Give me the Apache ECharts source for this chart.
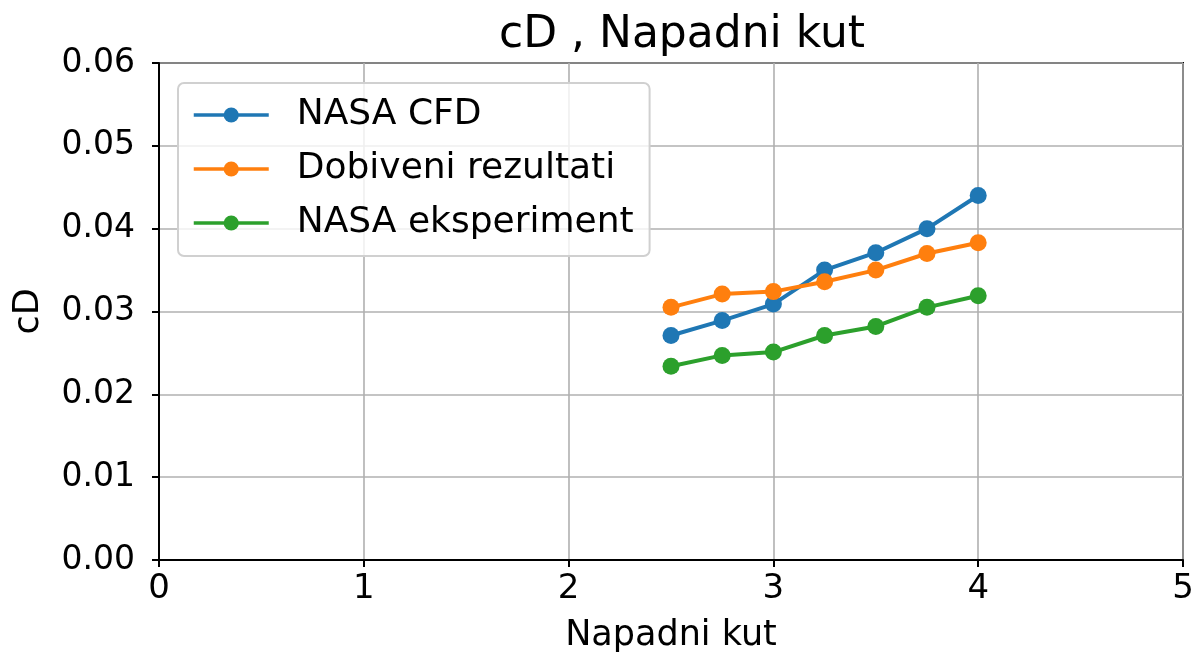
<!DOCTYPE html>
<html>
<head>
<meta charset="utf-8">
<script src="https://cdn.jsdelivr.net/npm/echarts@6/dist/echarts.min.js"></script>
<style>html,body{margin:0;padding:0;background:#fff;}#c{width:1195px;height:655px;}</style>
</head>
<body>
<div id="c"></div>
<script>
const angles = [2.5, 2.75, 3, 3.25, 3.5, 3.75, 4];
const nasaCFD = [0.0271, 0.0289, 0.0309, 0.0350, 0.0371, 0.0400, 0.0440];
const dobiveni = [0.0305, 0.0321, 0.0324, 0.0336, 0.0350, 0.0370, 0.0383];
const nasaEksperiment = [0.0234, 0.0247, 0.0251, 0.0271, 0.0282, 0.0305, 0.0319];
const seriesNames = ['NASA CFD', 'Dobiveni rezultati', 'NASA eksperiment'];
const colors = ['#1f77b4', '#ff7f0e', '#2ca02c'];
const font = 'DejaVu Sans';

const chart = echarts.init(document.getElementById('c'), null, {renderer: 'canvas'});
function pairs(ys){ return angles.map((x,i)=>[x, ys[i]]); }
const allData = [nasaCFD, dobiveni, nasaEksperiment];
chart.setOption({
  animation: false,
  backgroundColor: '#fff',
  title: {
    text: 'cD , Napadni kut',
    left: 677, top: 9, textAlign: 'center',
    textStyle: {fontFamily: font, fontSize: 44, fontWeight: 'normal', color: '#000'}
  },
  grid: {left: 159, right: 12, top: 63, bottom: 95, show: true, borderColor: '#000', borderWidth: 2,
         backgroundColor: 'transparent', containLabel: false, outerBoundsMode: 'none'},
  legend: {
    left: 178, top: 83,
    orient: 'vertical',
    data: seriesNames,
    itemWidth: 75, itemHeight: 19, itemGap: 18,
    padding: [14, 16, 15, 14],
    backgroundColor: 'rgba(255,255,255,0.8)',
    borderColor: '#d0d0d0', borderWidth: 2, borderRadius: 6,
    lineStyle: {width: 3.5},
    textStyle: {fontFamily: font, fontSize: 36, color: '#000', padding: [0,0,0,23]}
  },
  xAxis: {
    type: 'value', min: 0, max: 5, interval: 1,
    name: 'Napadni kut', nameLocation: 'middle', nameGap: 58,
    nameTextStyle: {fontFamily: font, fontSize: 35, color: '#000'},
    axisLine: {show: true, onZero: false, lineStyle: {color: '#000', width: 2}},
    axisTick: {show: true, length: 7, lineStyle: {color: '#000', width: 2}},
    axisLabel: {fontFamily: font, fontSize: 34, color: '#000', margin: 12},
    splitLine: {show: true, lineStyle: {color: '#b0b0b0', width: 1.6}}
  },
  yAxis: {
    type: 'value', min: 0, max: 0.06, interval: 0.01,
    name: 'cD', nameLocation: 'middle', nameGap: 113, nameRotate: 90,
    nameTextStyle: {fontFamily: font, fontSize: 35, color: '#000'},
    axisLine: {show: true, lineStyle: {color: '#000', width: 2}},
    axisTick: {show: true, length: 7, lineStyle: {color: '#000', width: 2}},
    axisLabel: {fontFamily: font, fontSize: 33, color: '#000', margin: 24, formatter: v => v.toFixed(2)},
    splitLine: {show: true, lineStyle: {color: '#b0b0b0', width: 1.6}}
  },
  series: seriesNames.map((n, i) => ({
    name: n, type: 'line', data: pairs(allData[i]),
    symbol: 'circle', symbolSize: 17, showAllSymbol: true,
    itemStyle: {color: colors[i]},
    lineStyle: {color: colors[i], width: 4}
  }))
});
</script>
</body>
</html>
